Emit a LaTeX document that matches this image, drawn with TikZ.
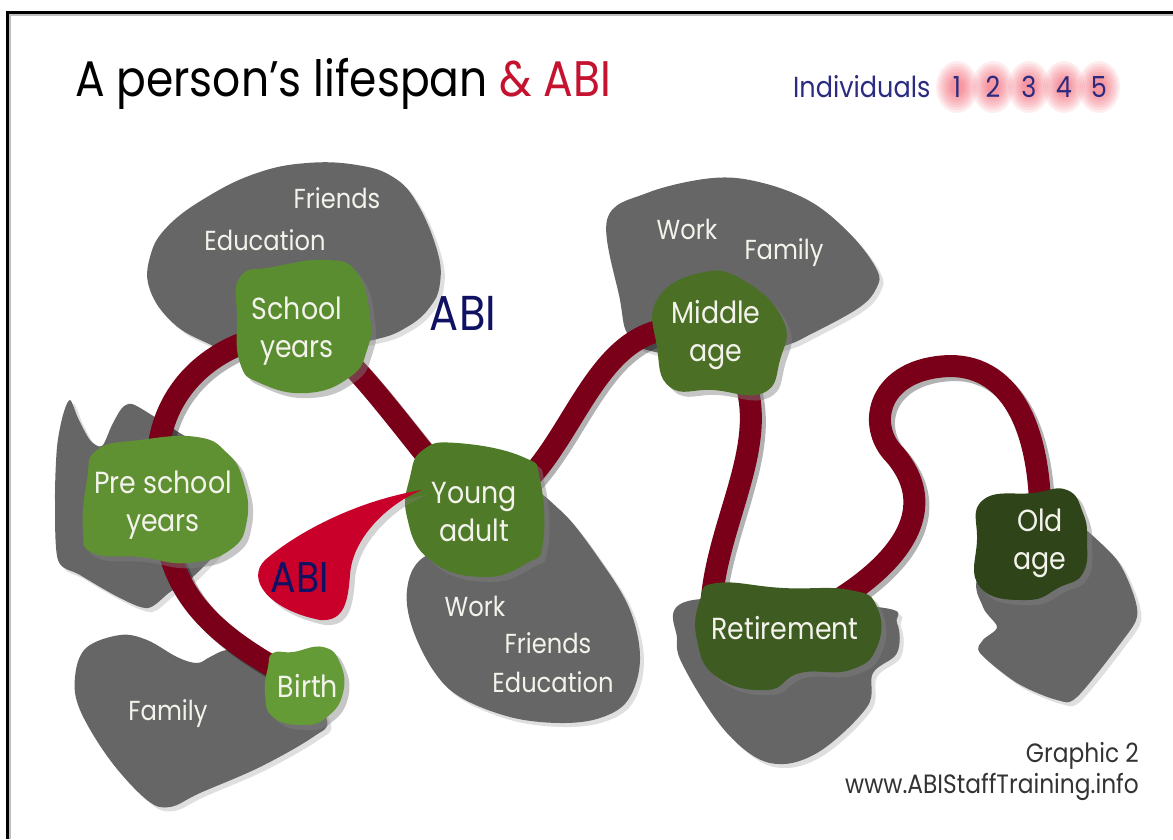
\documentclass[tikz,border=0pt]{standalone}
\usepackage{fontspec}
\setmainfont{Poppins}[FakeStretch=0.88]
\usetikzlibrary{shadows}

\definecolor{blobgrey}{HTML}{666666}
\definecolor{roadred}{HTML}{7A0019}
\definecolor{abired}{HTML}{C8002A}
\definecolor{abinavy}{HTML}{111163}
\definecolor{indiv}{HTML}{2B2B80}
\definecolor{glow}{HTML}{F03A4E}
\definecolor{titlered}{HTML}{C4122F}
\definecolor{stagetext}{HTML}{F3F3EC}
\definecolor{birthgreen}{HTML}{649B36}
\definecolor{preschgreen}{HTML}{5F9132}
\definecolor{schoolgreen}{HTML}{5A8C30}
\definecolor{younggreen}{HTML}{4F7B29}
\definecolor{middlegreen}{HTML}{4A6F25}
\definecolor{retiregreen}{HTML}{3E5B21}
\definecolor{oldgreen}{HTML}{2F4419}

\pgfdeclarelayer{greys}
\pgfdeclarelayer{roads}
\pgfdeclarelayer{blobs}
\pgfsetlayers{greys,roads,blobs,main}

\tikzset{
	stage/.style={align=center,text=stagetext,inner sep=0,font=\fontsize{30.5}{38}\selectfont},
	aspect/.style={text=stagetext,inner sep=0,font=\fontsize{27.5}{30}\selectfont},
	greyblob/.style={fill=blobgrey,drop shadow={shadow xshift=4pt,shadow yshift=-4pt,opacity=0.25}},
	greenblob/.style={fill=#1,drop shadow={shadow xshift=5pt,shadow yshift=-5pt,opacity=0.45}},
	lifeline/.style={draw=roadred,line width=22pt,
		preaction={draw=black,opacity=0.3,line width=22pt,transform canvas={shift={(4pt,-4pt)}}}}
}

\begin{document}
\begin{tikzpicture}[x=1pt,y=-1pt]
	\useasboundingbox (0,0) rectangle (1173,839);
	\draw[black!25,line width=2pt] (10,839) -- (10,15) -- (1173,15);
	\draw[line width=2.5pt] (7.5,839) -- (7.5,12.5) -- (1173,12.5);

	\node[anchor=base west,inner sep=0,font=\fontsize{50}{50}\selectfont] (title) at (75,96) {A person’s lifespan \textcolor{titlered}{\& ABI}};
	\node[anchor=base west,inner sep=0,text=indiv,font=\fontsize{29}{29}\selectfont] (indiv) at (793,97) {Individuals};
	\foreach \x [count=\i] in {957,993,1029,1064,1099} {
		\foreach \s in {1.0,0.9,...,0.2}
			\fill[glow,opacity=0.09] (\x,87) ellipse ({\s*21pt} and {\s*26pt});
		\node[inner sep=0,text=indiv,font=\fontsize{29}{29}\selectfont] (n\i) at (\x,87) {\i};
	}

	\node[stage] (school) at (297,331) {School\\years};
	\node[stage] (presch) at (163,505) {Pre school\\years};
	\node[stage] (birth) at (308,686) {Birth};
	\node[stage] (young) at (474,512) {Young\\adult};
	\node[stage] (middle) at (716,335) {Middle\\age};
	\node[stage] (retire) at (785,628) {Retirement};
	\node[stage] (old) at (1040,543) {Old\\age};
	\coordinate (bend1) at (895,455);
	\coordinate (bend2) at (950,366);

	\node[aspect] (friends1) at (337,198) {Friends};
	\node[aspect] (educ1) at (265,240) {Education};
	\node[aspect] (family1) at (168,714) {Family};
	\node[aspect] (work2) at (475,606) {Work};
	\node[aspect] (friends2) at (548,643) {Friends};
	\node[aspect] (educ2) at (553,682) {Education};
	\node[aspect] (work3) at (687,229) {Work};
	\node[aspect] (family3) at (784,253) {Family};

	\node[inner sep=0,text=abinavy,font=\fontsize{49}{49}\selectfont] (abi) at (463,313) {ABI};
	\node[inner sep=0,text=abinavy,font=\fontsize{43}{43}\selectfont] (abidrop) at (300,578) {ABI};

	\node[anchor=base east,inner sep=0,text=black!80,font=\fontsize{26.5}{26.5}\selectfont] (graphic) at (1139,762) {Graphic 2};
	\node[anchor=base east,inner sep=0,text=black!80,font=\fontsize{26.5}{26.5}\selectfont] (web) at (1139,793) {www.ABIStaffTraining.info};

	\begin{pgfonlayer}{greys}
		\fill[greyblob] plot[smooth cycle,tension=0.7] coordinates {(150,257) (167,227) (207,197) (257,173) (307,163) (357,165) (393,177) (417,203) (437,250) (440,283) (430,307) (407,327) (373,340) (300,352) (237,353) (207,343) (173,323) (150,290)};
		\fill[greyblob] plot[smooth cycle,tension=0.5] coordinates {(55,500) (57,447) (63,415) (70,400) (78,418) (90,440) (102,446) (112,425) (122,408) (132,404) (150,414) (175,430) (215,460) (230,530) (195,575) (170,592) (148,608) (120,598) (80,575) (58,560)};
		\fill[greyblob] plot[smooth cycle,tension=0.6] coordinates {(86,648) (120,635) (147,640) (177,657) (197,663) (210,657) (227,650) (260,650) (300,680) (327,720) (313,737) (260,767) (200,793) (170,807) (147,800) (110,760) (80,710) (75,677)};
		\fill[greyblob] plot[smooth cycle,tension=0.6] coordinates {(420,560) (460,540) (520,490) (560,510) (600,560) (630,610) (640,660) (628,700) (600,718) (560,723) (510,717) (460,697) (433,670) (412,627) (407,590)};
		\fill[greyblob] plot[smooth cycle,tension=0.6] coordinates {(607,220) (647,193) (713,178) (763,183) (813,203) (853,237) (877,270) (877,287) (860,307) (813,333) (780,347) (713,358) (647,350) (627,333) (620,300)};
		\fill[greyblob] plot[smooth cycle,tension=0.6] coordinates {(693,600) (677,640) (687,673) (727,733) (770,763) (817,753) (867,707) (873,673) (897,653) (897,623) (877,607)};
		\fill[greyblob] plot[smooth cycle,tension=0.5] coordinates {(1050,500) (1083,527) (1117,560) (1133,593) (1137,617) (1123,640) (1077,697) (1057,700) (1017,683) (980,653) (983,640) (997,627) (983,607) (980,573)};
	\end{pgfonlayer}

	\begin{pgfonlayer}{roads}
		\draw[lifeline] (birth.center) .. controls (220,640) and (165,600) .. (presch.center);
		\draw[lifeline] (presch.center) .. controls (140,420) and (190,340) .. (school.center);
		\draw[lifeline] (school.center) .. controls (340,330) and (400,430) .. (young.center);
		\draw[lifeline] (young.center) .. controls (580,490) and (580,290) .. (middle.center);
		\draw[lifeline] (middle.center) .. controls (800,420) and (705,520) .. (retire.west);
		\draw[lifeline] (retire.center) .. controls (880,585) and (950,520) .. (bend1)
			.. controls (865,425) and (878,368) .. (bend2)
			.. controls (1012,366) and (1045,430) .. (old.center);
	\end{pgfonlayer}

	\begin{pgfonlayer}{blobs}
		\fill[greenblob=schoolgreen] plot[smooth cycle,tension=0.8] coordinates {(240,277) (273,267) (327,260) (357,273) (370,317) (367,350) (350,377) (307,393) (260,383) (240,363) (237,317)};
		\fill[greenblob=preschgreen] plot[smooth cycle,tension=0.8] coordinates {(97,450) (140,440) (197,437) (227,453) (243,480) (247,520) (230,550) (187,563) (140,557) (93,553) (83,530) (87,480)};
		\fill[greenblob=birthgreen] plot[smooth cycle,tension=0.8] coordinates {(273,653) (293,652) (323,647) (340,663) (343,693) (327,717) (303,725) (273,717) (265,693) (268,667)};
		\fill[greenblob=younggreen] plot[smooth cycle,tension=0.8] coordinates {(423,450) (457,443) (523,457) (540,480) (543,543) (527,563) (483,577) (430,560) (407,517) (410,477)};
		\fill[greenblob=middlegreen] plot[smooth cycle,tension=0.8] coordinates {(657,300) (700,273) (743,280) (783,320) (780,360) (763,393) (713,390) (670,387) (657,347)};
		\fill[greenblob=retiregreen] plot[smooth cycle,tension=0.8] coordinates {(717,583) (783,588) (850,590) (877,607) (877,647) (850,670) (800,673) (767,690) (717,677) (697,640) (700,600)};
		\fill[greenblob=oldgreen] plot[smooth cycle,tension=0.8] coordinates {(983,500) (1033,493) (1067,490) (1083,513) (1087,540) (1083,573) (1060,587) (1027,600) (980,587) (977,540)};
		\fill[abired,drop shadow={shadow xshift=5pt,shadow yshift=-5pt,opacity=0.35}] (422,490) .. controls (360,500) and (300,530) .. (265,560) .. controls (245,580) and (270,610) .. (320,620) .. controls (345,622) and (348,600) .. (350,575) .. controls (352,540) and (385,505) .. cycle;
	\end{pgfonlayer}
\end{tikzpicture}
\end{document}
